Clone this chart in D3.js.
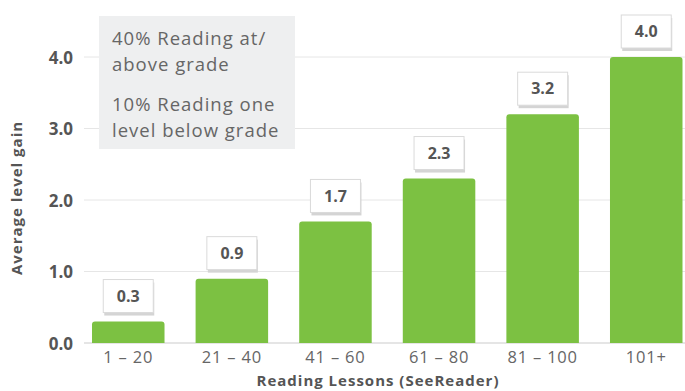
<!DOCTYPE html>
<html>
<head>
<meta charset="utf-8">
<script src="https://cdn.jsdelivr.net/npm/d3@7"></script>
<style>
  html, body { margin: 0; padding: 0; background: #fff; }
  svg { display: block; font-family: "Open Sans", Lato, sans-serif; }
</style>
</head>
<body>
<svg id="chart" width="685" height="391"></svg>
<script>
// Lesson bands and the average reading-level gain for each
const categories = ["1 – 20", "21 – 40", "41 – 60", "61 – 80", "81 – 100", "101+"];
const gains = [0.3, 0.9, 1.7, 2.3, 3.2, 4.0];
const yTicks = [0, 1, 2, 3, 4];
const noteLines = [
  ["40% Reading at/", "above grade"],
  ["10% Reading one", "level below grade"]
];
const xTitle = "Reading Lessons (SeeReader)";
const yTitle = "Average level gain";

const font = "'Open Sans', Lato, sans-serif";
const svg = d3.select("#chart");
const green = "#7cc142";
const textDark = "#555";
const textMid = "#666";

const x = d3.scaleBand().domain(categories).range([92, 682.5]).paddingInner(0.3).paddingOuter(0);
const y = d3.scaleLinear().domain([0, 4]).range([343, 57]);

// Horizontal gridlines
svg.append("g").selectAll("line").data(yTicks).join("line")
  .attr("x1", 84).attr("x2", 685)
  .attr("y1", d => y(d)).attr("y2", d => y(d))
  .attr("stroke", d => d === 0 ? "#dcdcdc" : "#e6e6e6")
  .attr("stroke-width", d => d === 0 ? 1.5 : 1);

// Y axis tick labels
const yAxis = d3.axisLeft(y).tickValues(yTicks).tickFormat(d3.format(".1f")).tickSize(0).tickPadding(0);
const yg = svg.append("g").attr("transform", "translate(73,0)").call(yAxis);
yg.select(".domain").remove();
yg.selectAll("text")
  .attr("font-family", font)
  .attr("font-size", 17).attr("font-weight", 700).attr("fill", textDark)
  .attr("dy", "0.36em");

// X axis tick labels
const xAxis = d3.axisBottom(x).tickSize(0).tickPadding(0);
const xg = svg.append("g").attr("transform", "translate(0,351)").call(xAxis);
xg.select(".domain").remove();
xg.selectAll("text")
  .attr("font-family", font)
  .attr("font-size", 16.5).attr("fill", textMid)
  .attr("letter-spacing", 0.8)
  .attr("dy", "0.75em");

// Bars with rounded tops
const r = 3;
svg.append("g").selectAll("path").data(gains).join("path")
  .attr("fill", green)
  .attr("d", (d, i) => {
    const x0 = x(categories[i]), w = x.bandwidth(), top = y(d), base = y(0);
    return `M${x0},${base}V${top + r}Q${x0},${top} ${x0 + r},${top}H${x0 + w - r}Q${x0 + w},${top} ${x0 + w},${top + r}V${base}Z`;
  });

// Value labels in boxed callouts
const boxW = 50, boxH = 33;
const lab = svg.append("g").selectAll("g").data(gains).join("g")
  .attr("transform", (d, i) => `translate(${x(categories[i]) + x.bandwidth() / 2},${y(d) - 42})`);
lab.append("rect")
  .attr("x", -boxW / 2 + 1).attr("y", 3).attr("width", boxW).attr("height", boxH)
  .attr("fill", "#d4d4d4");
lab.append("rect")
  .attr("x", -boxW / 2).attr("y", 0).attr("width", boxW).attr("height", boxH)
  .attr("fill", "#fff").attr("stroke", "#dadada").attr("stroke-width", 1);
lab.append("text")
  .attr("text-anchor", "middle").attr("x", 0).attr("y", boxH / 2)
  .attr("dy", "0.36em")
  .attr("font-size", 16).attr("font-weight", 700).attr("fill", textDark)
  .text(d => d3.format(".1f")(d));

// Note panel
svg.append("rect")
  .attr("x", 99).attr("y", 16).attr("width", 196).attr("height", 133)
  .attr("fill", "#eeeff0");
const note = svg.append("text")
  .attr("font-size", 18.5).attr("fill", textMid)
  .attr("letter-spacing", 1);
const noteBase = [45, 111];
noteLines.forEach((pair, k) => {
  pair.forEach((line, j) => {
    note.append("tspan").attr("x", 112).attr("y", noteBase[k] + j * 26).text(line);
  });
});

// Axis titles
svg.append("text")
  .attr("x", 378).attr("y", 386)
  .attr("text-anchor", "middle")
  .attr("font-size", 15).attr("font-weight", 700).attr("fill", textDark)
  .attr("letter-spacing", 1)
  .text(xTitle);
svg.append("text")
  .attr("transform", "translate(22,198) rotate(-90)")
  .attr("text-anchor", "middle")
  .attr("font-size", 15).attr("font-weight", 700).attr("fill", textDark)
  .attr("letter-spacing", 1)
  .text(yTitle);
</script>
</body>
</html>
